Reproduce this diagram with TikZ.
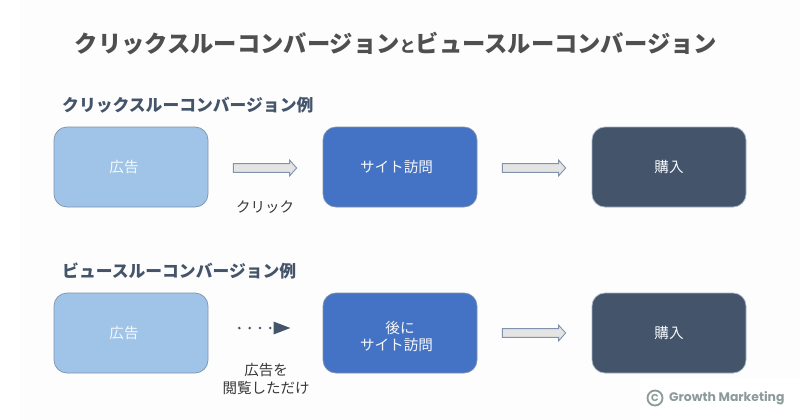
\documentclass[tikz,border=0pt]{standalone}
\usepackage{fontspec}
\setmainfont{Noto Sans CJK JP}
\newfontfamily\wmfont{Poppins}
\usetikzlibrary{arrows.meta,calc}
\definecolor{lightblue}{HTML}{A0C4E8}
\definecolor{midblue}{HTML}{4472C4}
\definecolor{slate}{HTML}{44546A}
\definecolor{titlegray}{HTML}{4F4F4F}
\definecolor{edgeblue}{HTML}{8093AD}
\definecolor{arrowfill}{HTML}{E4E4E4}
\definecolor{wmgray}{HTML}{8C9A9A}
\tikzset{
  flowbox/.style={rounded corners=13pt,minimum width=154pt,minimum height=80pt,inner sep=0pt,
    draw=edgeblue,line width=.7pt,text=white!88!lightblue,align=center,
    font=\fontsize{14.6}{17}\selectfont},
  titletext/.style={inner sep=0pt,anchor=west,text=titlegray,font=\fontsize{23.3}{28}\selectfont\bfseries},
  headtext/.style={inner sep=0pt,anchor=west,text=slate,font=\fontsize{16.8}{20}\selectfont\bfseries},
  notetext/.style={inner sep=0pt,align=center,text=black!78,font=\fontsize{14.5}{18}\selectfont},
  blockarrow/.style={draw=edgeblue,fill=arrowfill,line width=.9pt,line join=miter,
    to path={let \p1=(\tikztostart),\p2=(\tikztotarget) in
      (\x1+25pt,\y1+4.4pt) -- (\x2-33pt,\y1+4.4pt) -- (\x2-33pt,\y1+7.8pt) -- (\x2-26pt,\y1)
      -- (\x2-33pt,\y1-7.8pt) -- (\x2-33pt,\y1-4.4pt) -- (\x1+25pt,\y1-4.4pt) -- cycle}},
  dotarrow/.style={draw=slate,line width=2.8pt,line cap=round,dash pattern=on 0pt off 10.3pt,
    shorten <=31pt,shorten >=32pt,-{Triangle[length=17pt,width=12pt,line cap=butt]}}
}
\begin{document}
\begin{tikzpicture}[x=1pt,y=-1pt]
\useasboundingbox (0,0) rectangle (800,420);
\fill[white] (0,0) rectangle (800,420);
\fill[black!0.8] (20,0) rectangle (800,420);
\fill[white] (640,378) rectangle (800,420);

\node[titletext] (title) at (74.5,44) {クリックスルーコンバージョン{\fontsize{16}{20}\selectfont と}ビュースルーコンバージョン};
\node[headtext] (head1) at (62,105) {クリックスルーコンバージョン例};
\node[headtext] (head2) at (62,271) {ビュースルーコンバージョン例};

\node[flowbox,fill=lightblue] (ad1) at (131,167) {広告\hspace*{14pt}};
\node[flowbox,fill=midblue] (visit1) at (400,167) {サイト訪問\hspace*{7pt}};
\node[flowbox,fill=slate,draw=edgeblue!70!white] (buy1) at (669,167) {購入};

\node[flowbox,fill=lightblue] (ad2) at (131,333) {広告\hspace*{14pt}};
\node[flowbox,fill=midblue] (visit2) at (400,333) {\rule{0pt}{19pt}後に\\サイト訪問\hspace*{7pt}};
\node[flowbox,fill=slate,draw=edgeblue!70!white] (buy2) at (669,333) {購入};

\draw[blockarrow] ([yshift=-1pt]ad1.east) to ([yshift=-1pt]visit1.west);
\draw[blockarrow] ([yshift=-1pt]visit1.east) to ([yshift=-1pt]buy1.west);
\draw[dotarrow] ([yshift=5pt]ad2.east) -- ([yshift=5pt]visit2.west);
\draw[blockarrow] (visit2.east) to (buy2.west);

\node[notetext] (click) at (265,207) {クリック};
\node[notetext] (view) at (266,379) {広告を\\閲覧しただけ};

\node[draw=wmgray,line width=1.8pt,circle,minimum size=15pt,inner sep=0pt,text=wmgray,
  font=\wmfont\bfseries\fontsize{10}{10}\selectfont] (wmmark) at (655,398) {C};
\node[anchor=west,inner sep=0pt,text=wmgray,font=\wmfont\bfseries\fontsize{12.4}{14}\selectfont] (wmtext) at (669,398) {Growth Marketing};
\end{tikzpicture}
\end{document}
